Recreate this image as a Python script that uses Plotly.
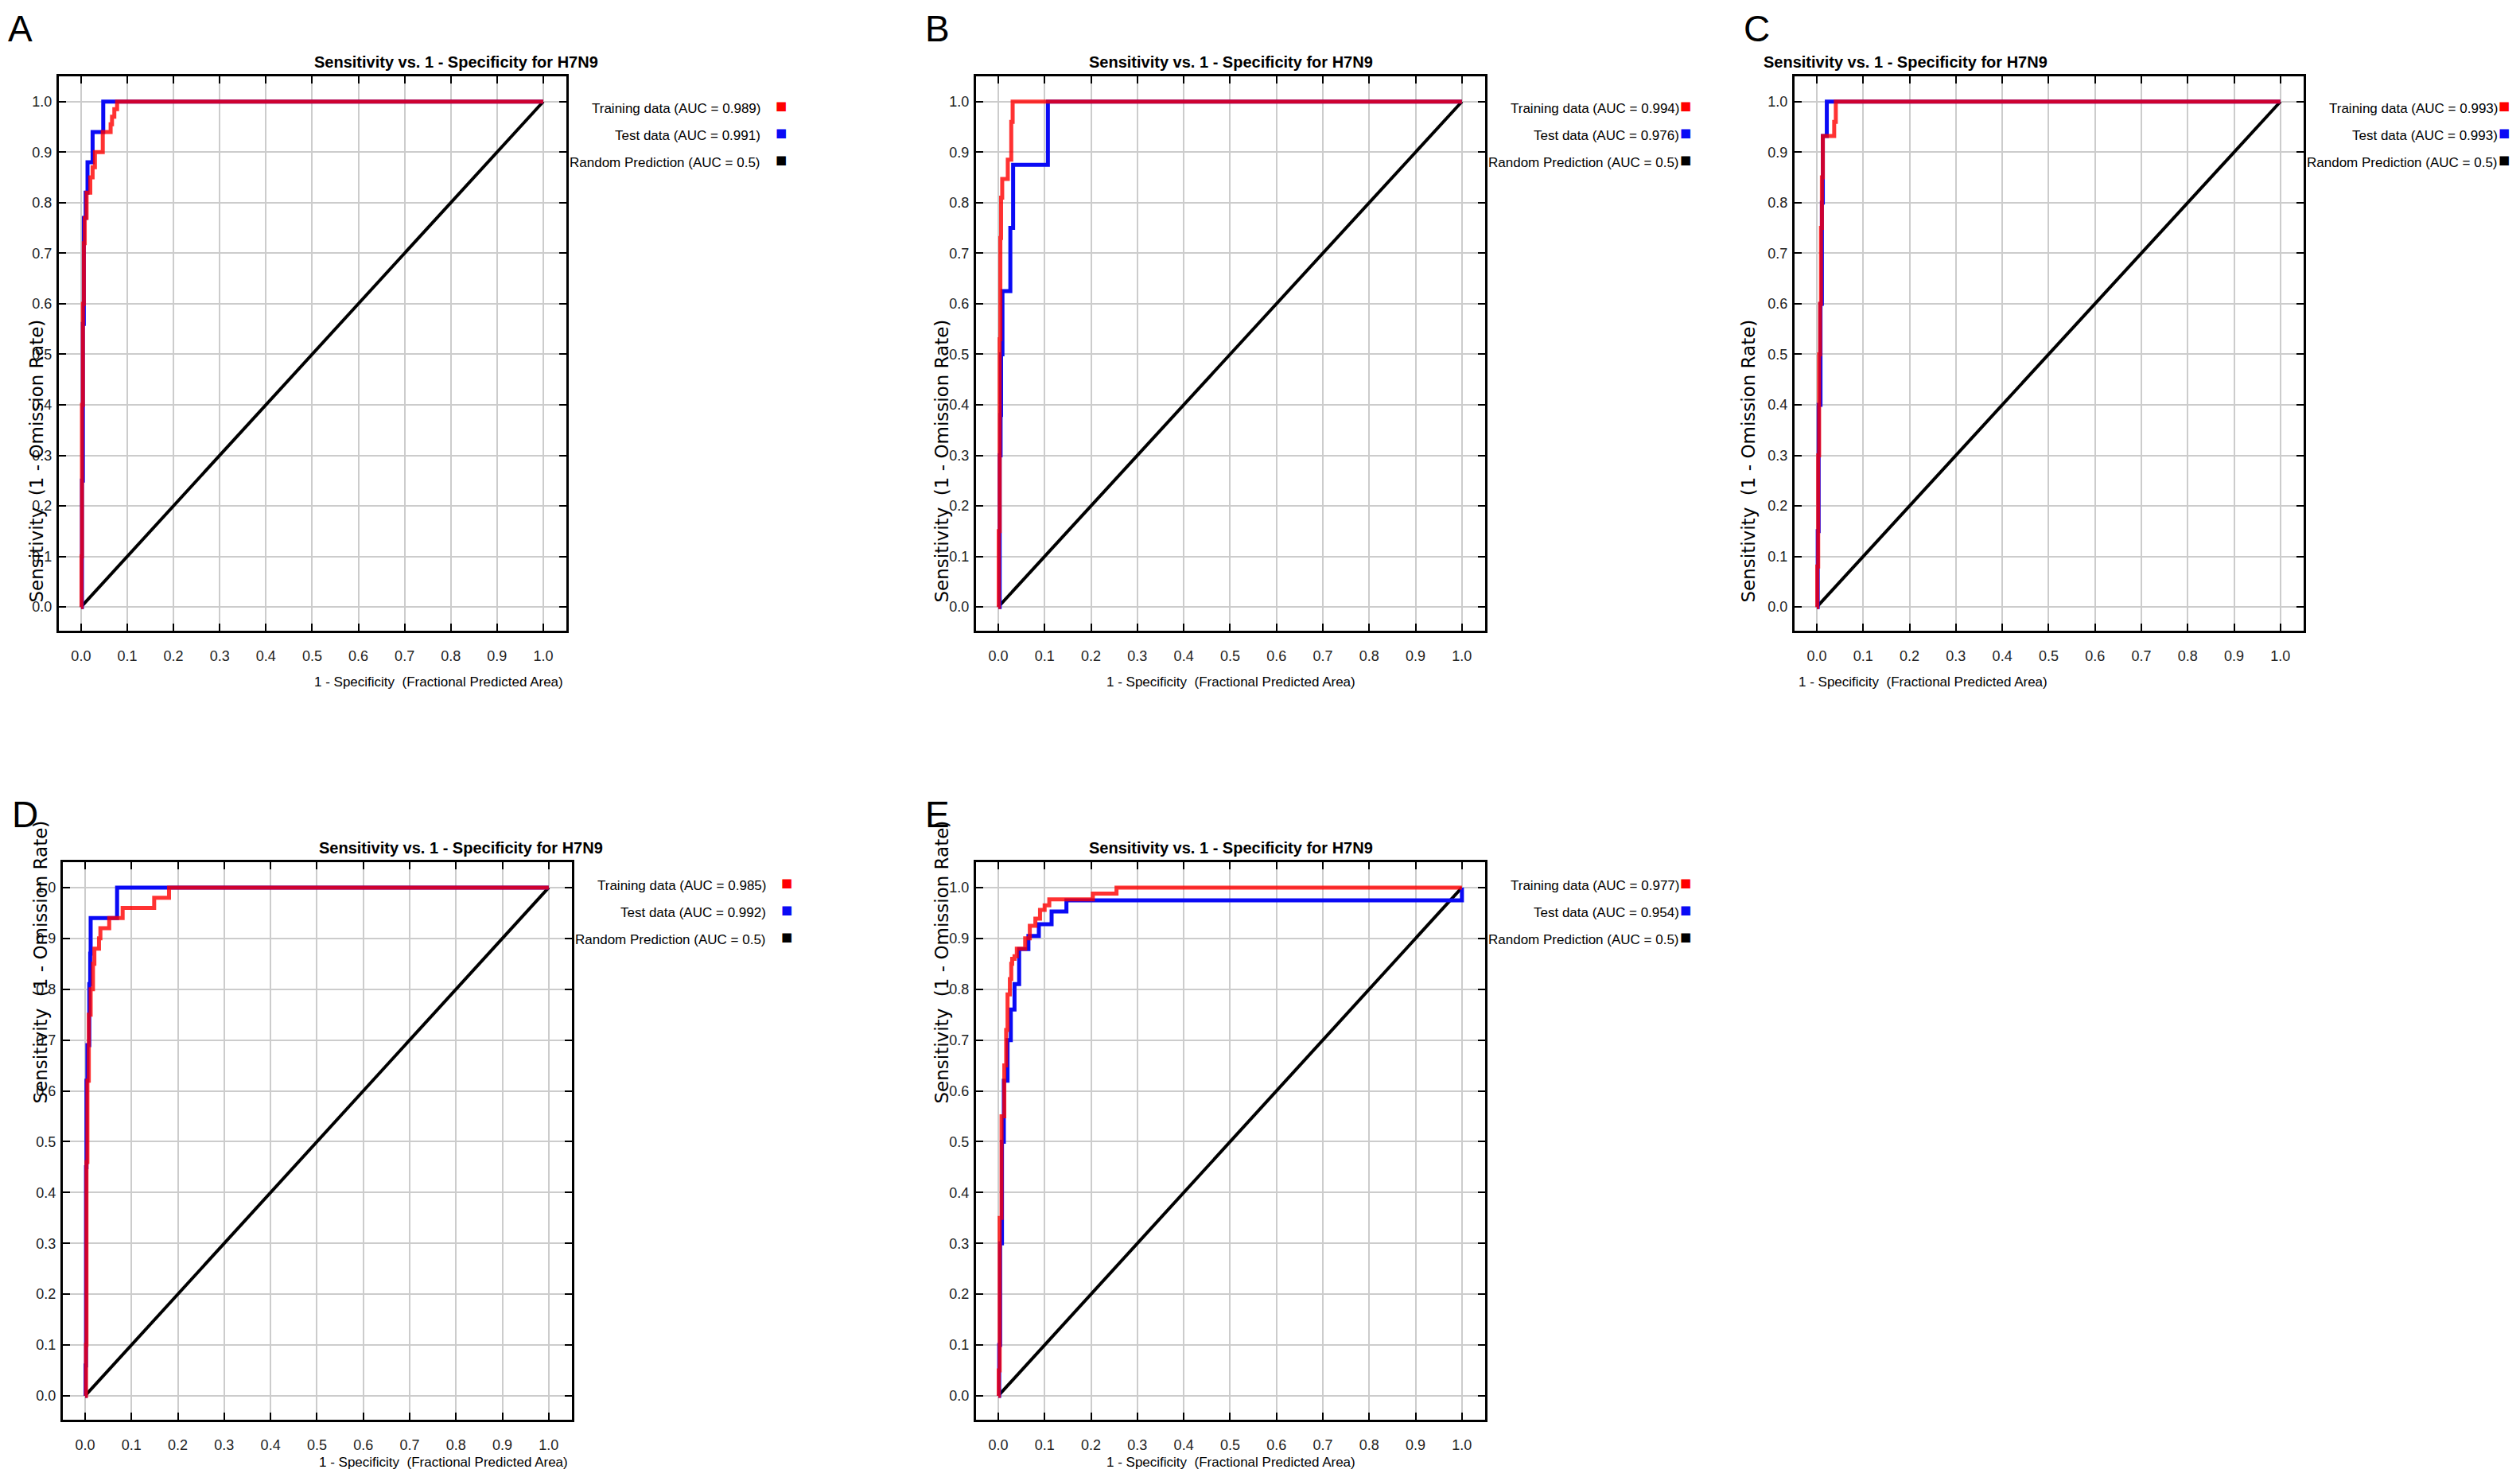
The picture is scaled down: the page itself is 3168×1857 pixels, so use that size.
import plotly.graph_objects as go
from plotly.subplots import make_subplots

W, H = 3168, 1857

# ROC points (1 - specificity, sensitivity)
a_train_x = [0, 0.001, 0.002, 0.004, 0.006, 0.008, 0.012, 0.02, 0.025, 0.03, 0.047, 0.064, 0.067, 0.072, 0.078, 1]
a_train_y = [0, 0.1, 0.4, 0.6, 0.72, 0.77, 0.82, 0.85, 0.87, 0.90, 0.94, 0.955, 0.97, 0.985, 1.0, 1]
a_test_x = [0, 0.002, 0.004, 0.006, 0.01, 0.014, 0.025, 0.048, 1]
a_test_y = [0, 0.25, 0.56, 0.77, 0.82, 0.88, 0.94, 1.0, 1]

b_train_x = [0, 0.001, 0.003, 0.0045, 0.006, 0.0085, 0.0205, 0.028, 0.031, 1]
b_train_y = [0, 0.15, 0.53, 0.73, 0.81, 0.847, 0.885, 0.96, 1.0, 1]
b_test_x = [0, 0.003, 0.005, 0.006, 0.009, 0.026, 0.032, 0.107, 1]
b_test_y = [0, 0.3, 0.38, 0.5, 0.625, 0.75, 0.875, 1.0, 1]

c_train_x = [0, 0.001, 0.003, 0.005, 0.007, 0.009, 0.011, 0.013, 0.0375, 0.041, 1]
c_train_y = [0, 0.08, 0.3, 0.5, 0.6, 0.75, 0.85, 0.932, 0.96, 1.0, 1]
c_test_x = [0, 0.002, 0.004, 0.008, 0.011, 0.013, 0.0216, 1]
c_test_y = [0, 0.15, 0.4, 0.6, 0.8, 0.932, 1.0, 1]

d_train_x = [0, 0.002, 0.003, 0.005, 0.008, 0.012, 0.017, 0.02, 0.03, 0.033, 0.052, 0.081, 0.149, 0.181, 1]
d_train_y = [0, 0.1, 0.46, 0.62, 0.75, 0.80, 0.85, 0.88, 0.90, 0.92, 0.94, 0.96, 0.98, 1.0, 1]
d_test_x = [0, 0.001, 0.002, 0.003, 0.005, 0.009, 0.011, 0.012, 0.069, 1]
d_test_y = [0, 0.06, 0.45, 0.62, 0.69, 0.81, 0.87, 0.94, 1.0, 1]

e_train_x = [0, 0.001, 0.003, 0.007, 0.013, 0.017, 0.02, 0.025, 0.028, 0.03, 0.035, 0.04, 0.058,
             0.068, 0.08, 0.09, 0.1, 0.11, 0.204, 0.255, 1]
e_train_y = [0, 0.05, 0.35, 0.55, 0.65, 0.72, 0.79, 0.82, 0.85, 0.86, 0.865, 0.88, 0.9,
             0.925, 0.939, 0.956, 0.965, 0.977, 0.988, 1.0, 1]
e_test_x = [0, 0.002, 0.004, 0.008, 0.012, 0.02, 0.027, 0.035, 0.045, 0.065, 0.0875, 0.115, 0.147, 0.98, 1]
e_test_y = [0, 0.1, 0.3, 0.5, 0.62, 0.7, 0.76, 0.81, 0.879, 0.905, 0.928, 0.953, 0.975, 0.975, 1]

random_x = [0, 1]
random_y = [0, 1]

panel_letters = ["A", "B", "C", "D", "E"]
auc_train = ["0.989", "0.994", "0.993", "0.985", "0.977"]
auc_test = ["0.991", "0.976", "0.993", "0.992", "0.954"]

curves = [
    (a_train_x, a_train_y, a_test_x, a_test_y),
    (b_train_x, b_train_y, b_test_x, b_test_y),
    (c_train_x, c_train_y, c_test_x, c_test_y),
    (d_train_x, d_train_y, d_test_x, d_test_y),
    (e_train_x, e_train_y, e_test_x, e_test_y),
]

# pixel boxes of each plot area: left, right, top, bottom
boxes = [
    (66, 704, 88, 785),
    (1219, 1859, 88, 785),
    (2248, 2888, 88, 785),
    (71, 711, 1076, 1777),
    (1219, 1859, 1076, 1777),
]
cells = [(1, 1), (1, 2), (1, 3), (2, 1), (2, 2)]

SANS = "Liberation Sans, Arial"

def px(x):
    return x / W

def py(y):
    return 1 - y / H

fig = make_subplots(rows=2, cols=3)

annotations = []
for i, ((tx, ty, sx, sy), (l, r, t, b), (row, col)) in enumerate(zip(curves, boxes, cells)):
    fig.add_trace(go.Scatter(x=random_x, y=random_y, mode="lines",
                             line=dict(color="black", width=4)), row=row, col=col)
    fig.add_trace(go.Scatter(x=sx, y=sy, mode="lines", line_shape="hv",
                             line=dict(color="#0a0af5", width=5)), row=row, col=col)
    fig.add_trace(go.Scatter(x=tx, y=ty, mode="lines", line_shape="hv", opacity=0.8,
                             line=dict(color="#ff0000", width=5)), row=row, col=col)

    n = i + 1
    xa = "xaxis" if n == 1 else "xaxis%d" % n
    ya = "yaxis" if n == 1 else "yaxis%d" % n
    fig.layout[xa].domain = [px(l), px(r)]
    fig.layout[ya].domain = [py(b), py(t)]

    cx = (l + r) / 2
    # title
    annotations.append(dict(x=px(cx), y=py(t - 5), xref="paper", yref="paper",
                            text="<b>Sensitivity vs. 1 - Specificity for H7N9</b>", showarrow=False,
                            font=dict(family=SANS, size=20, color="black"), yanchor="bottom"))
    # axis titles
    annotations.append(dict(x=px(cx), y=py(b + 65), xref="paper", yref="paper",
                            text="1 - Specificity  (Fractional Predicted Area)", showarrow=False,
                            font=dict(family=SANS, size=17, color="black")))
    annotations.append(dict(x=px(l - 44), y=py((t + b) / 2 - 45), xref="paper", yref="paper",
                            text="Sensitivity  (1 - Omission Rate)", showarrow=False, textangle=-90,
                            font=dict(family="DejaVu Sans, Arial", size=23, color="black")))
    # panel letter
    annotations.append(dict(x=px(l - 66), y=py(t - 88), xref="paper", yref="paper",
                            text=panel_letters[i], showarrow=False, xanchor="left", yanchor="top",
                            font=dict(family=SANS, size=46, color="black")))
    # legend entries, text on the left of the coloured square
    leg_x = r + 246
    labels = ["Training data (AUC = %s)" % auc_train[i],
              "Test data (AUC = %s)" % auc_test[i],
              "Random Prediction (AUC = 0.5)"]
    colors = ["#ff0000", "#0a0af5", "black"]
    for k, (lab, colr) in enumerate(zip(labels, colors)):
        yy = t + 29 + k * 34
        annotations.append(dict(x=px(leg_x), y=py(yy), xref="paper", yref="paper",
                                text=lab, showarrow=False, xanchor="right",
                                font=dict(family=SANS, size=17, color="black")))
        annotations.append(dict(x=px(leg_x + 15), y=py(yy - 3), xref="paper", yref="paper",
                                text="■", showarrow=False,
                                font=dict(family="DejaVu Sans", size=15, color=colr)))

axis_style = dict(dtick=0.1, tickformat=".1f", showgrid=True,
                  gridcolor="#cccccc", gridwidth=2, zeroline=False,
                  showline=True, linecolor="black", linewidth=3, mirror="ticks",
                  ticks="inside", ticklen=9, tickwidth=2, tickcolor="black",
                  tickfont=dict(family=SANS, size=18, color="#222222"))
fig.update_xaxes(**axis_style)
fig.update_yaxes(**axis_style)
fig.update_xaxes(range=[-0.048, 1.05], ticklabelstandoff=13)
fig.update_yaxes(range=[-0.047, 1.05], ticklabelstandoff=2)

fig.update_layout(width=W, height=H, showlegend=False, plot_bgcolor="white",
                  paper_bgcolor="white", margin=dict(l=0, r=0, t=0, b=0),
                  annotations=annotations)

fig.write_html("out.html")
